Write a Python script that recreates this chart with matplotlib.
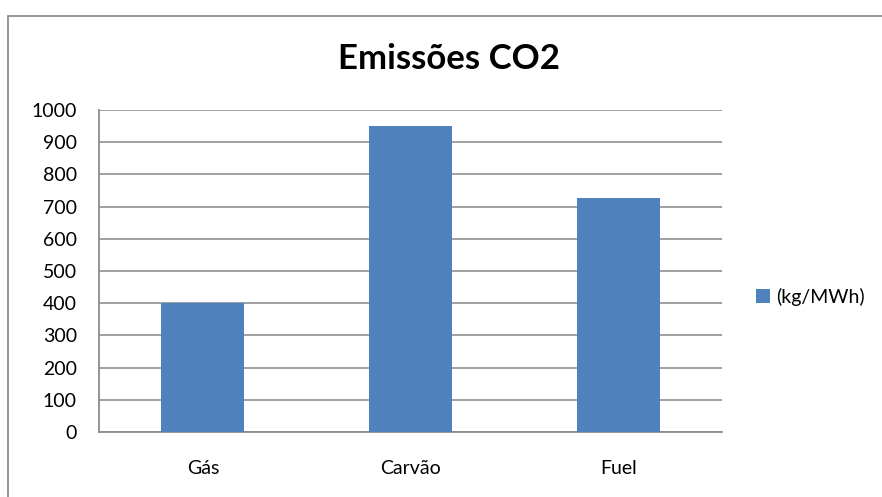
import matplotlib
matplotlib.use("Agg")
import matplotlib.pyplot as plt
from matplotlib.patches import Rectangle

categories = ["Gás", "Carvão", "Fuel"]
values = [400, 950, 728]
series_name = "(kg/MWh)"
title = "Emissões CO2"
yticks = [0, 100, 200, 300, 400, 500, 600, 700, 800, 900, 1000]

W, H = 882, 497
plt.rcParams['font.family'] = ['Lato', 'DejaVu Sans']

fig = plt.figure(figsize=(W / 100, H / 100), dpi=100)
fig.patch.set_facecolor('white')

# chart border (extends past the image on right/bottom)
fig.add_artist(Rectangle((8 / W, -0.05), 1.2, 1 - 16 / H + 0.05,
                         transform=fig.transFigure, fill=False,
                         edgecolor='#8c8c8c', linewidth=1.3))

ax = fig.add_axes([99 / W, 1 - 432 / H, (722 - 99) / W, (432 - 110) / H])
bar_color = '#4F81BD'
ax.bar(range(len(categories)), values, width=0.4, color=bar_color,
       label=series_name, zorder=3)
ax.set_xlim(-0.5, len(categories) - 0.5)
ax.set_ylim(0, 1000)
ax.set_yticks(yticks)
ax.set_yticklabels([str(v) for v in yticks])
ax.set_xticks(range(len(categories)))
ax.set_xticklabels(categories)

grid_c = '#a0a0a0'
ax.grid(axis='y', color=grid_c, linewidth=1.4, zorder=0)
ax.set_axisbelow(True)
for s in ['top', 'right']:
    ax.spines[s].set_visible(False)
for s in ['left', 'bottom']:
    ax.spines[s].set_color('#8c8c8c')
    ax.spines[s].set_linewidth(1.3)
ax.tick_params(axis='both', length=0, labelsize=14, colors='black')
ax.tick_params(axis='y', pad=16)
ax.tick_params(axis='x', pad=20)

fig.text(449.5 / W, 1 - 69 / H, title, ha='center', va='baseline',
         fontsize=25, fontweight='bold', color='black')

fig.legend(loc='center left', bbox_to_anchor=(756 / W, 1 - 297 / H),
           frameon=False, fontsize=14, handlelength=0.72, handleheight=0.72,
           handletextpad=0.3, borderpad=0, borderaxespad=0)

fig.savefig('out.png', dpi=100, facecolor='white')
